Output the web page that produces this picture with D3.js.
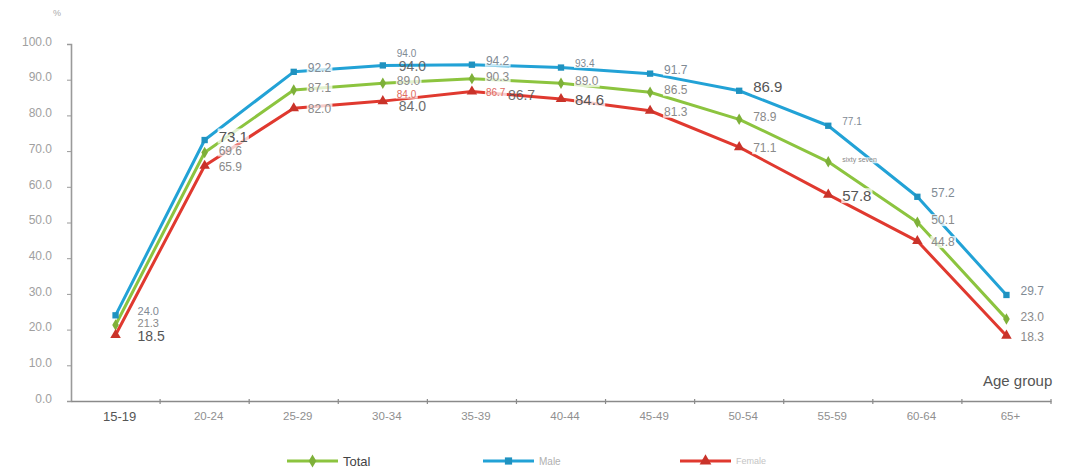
<!DOCTYPE html>
<html>
<head>
<meta charset="utf-8">
<script src="https://cdn.jsdelivr.net/npm/d3@7/dist/d3.min.js"></script>
<style>
  html, body { margin: 0; padding: 0; background: #fff; }
  svg { display: block; font-family: "Liberation Sans", Arial, sans-serif; }
</style>
</head>
<body>
<svg id="chart" width="1065" height="476"></svg>
<script>
// Labour force participation rate by age group (%)
const ageGroups = ["15-19", "20-24", "25-29", "30-34", "35-39", "40-44", "45-49", "50-54", "55-59", "60-64", "65+"];
const totalRate  = [21.3, 69.6, 87.1, 89.0, 90.3, 89.0, 86.5, 78.9, 67.0, 50.1, 23.0];
const maleRate   = [24.0, 73.1, 92.2, 94.0, 94.2, 93.4, 91.7, 86.9, 77.1, 57.2, 29.7];
const femaleRate = [18.5, 65.9, 82.0, 84.0, 86.7, 84.6, 81.3, 71.1, 57.8, 44.8, 18.3];
const yTicks = [0, 10, 20, 30, 40, 50, 60, 70, 80, 90, 100];
const seriesNames = ["Total", "Male", "Female"];
// printed label text where it differs from the plain number
const totalLabelText = { 8: "sixty seven" };

const svg = d3.select("#chart");

const x = d3.scaleBand().domain(ageGroups).range([71, 1051]).padding(0);
const y = d3.scaleLinear().domain([0, 100]).range([401, 44]);
const cx = d => x(d) + x.bandwidth() / 2;

// ---- y axis
const yAxis = svg.append("g")
  .attr("transform", "translate(71,0)")
  .call(d3.axisLeft(y).tickValues(yTicks).tickFormat(d3.format(".1f")).tickSize(4).tickPadding(15));
yAxis.select(".domain").attr("stroke", "#9a9a9a").attr("stroke-width", 1.6);
yAxis.selectAll(".tick line").attr("stroke", "#9a9a9a");
yAxis.selectAll(".tick text")
  .attr("fill", "#a0a0a0").attr("font-size", 12).attr("dy", "0.1em")
  .attr("font-family", "Liberation Sans, Arial, sans-serif");

svg.append("text").attr("x", 57).attr("y", 16).attr("text-anchor", "middle")
  .attr("fill", "#aaa").attr("font-size", 9).text("%");

// ---- x axis (labels centred in each band, ticks on band edges)
const xAxis = svg.append("g")
  .attr("transform", "translate(0,401)")
  .call(d3.axisBottom(x).tickSize(0).tickPadding(11));
xAxis.select(".domain").attr("stroke", "#8a8a8a").attr("stroke-width", 1.6);
xAxis.selectAll(".tick text")
  .attr("dx", 4)
  .attr("fill", (d, i) => i === 0 ? "#555" : "#8f8f8f")
  .attr("font-size", (d, i) => i === 0 ? 13 : 11.5)
  .attr("font-family", "Liberation Sans, Arial, sans-serif");
svg.append("g").selectAll("line")
  .data(ageGroups)
  .join("line")
  .attr("x1", d => x(d) + x.bandwidth()).attr("x2", d => x(d) + x.bandwidth())
  .attr("y1", 399).attr("y2", 404)
  .attr("stroke", "#8a8a8a").attr("stroke-width", 1.2);

svg.append("text").attr("x", 983).attr("y", 386)
  .attr("fill", "#555").attr("font-size", 15).text("Age group");

// ---- series
const series = [
  { name: seriesNames[0], values: totalRate,  color: "#8cc43f", marker: d3.symbolDiamond,  size: 38, labelColor: "#8a8a8a", dy: -2 },
  { name: seriesNames[1], values: maleRate,   color: "#22a2d6", marker: d3.symbolSquare,   size: 40, labelColor: "#7f8a94", dy: -4 },
  { name: seriesNames[2], values: femaleRate, color: "#e0392f", marker: d3.symbolTriangle, size: 48, labelColor: "#8a8a8a", dy: 1 }
];
// emphasised (larger, darker) labels and small ones, by series name
const bigLabels   = { Male: [1, 7], Female: [0, 5, 8], Total: [] };
const smallLabels = { Male: [3, 5, 8], Female: [3, 4], Total: [8] };
// small labels that sit a little higher, above a doubled print
const raisedLabels = { Male: [3], Female: [3], Total: [] };

const line = d3.line().x((d, i) => cx(ageGroups[i])).y(d => y(d));

const plot = svg.append("g");
series.forEach(s => {
  plot.append("path")
    .datum(s.values)
    .attr("d", line)
    .attr("fill", "none")
    .attr("stroke", s.color)
    .attr("stroke-width", 3)
    .attr("stroke-linejoin", "round");
});
series.forEach(s => {
  plot.append("g").selectAll("path")
    .data(s.values)
    .join("path")
    .attr("transform", (d, i) => `translate(${cx(ageGroups[i])},${y(d)})`)
    .attr("d", d3.symbol().type(s.marker).size(s.size))
    .attr("fill", d3.color(s.color).darker(0.3));
});

// ---- value labels
const labelLayer = svg.append("g");
series.forEach(s => {
  s.values.forEach((v, i) => {
    const big = bigLabels[s.name].includes(i);
    const small = smallLabels[s.name].includes(i);
    const raised = raisedLabels[s.name].includes(i);
    let text = v.toFixed(1);
    if (s.name === "Total" && totalLabelText[i]) text = totalLabelText[i];
    const fs = big ? (i === 0 ? 14 : 15) : small ? (text.length > 5 ? 7 : 10) : (i === 0 ? 11 : 12);
    const lx = cx(ageGroups[i]) + (i === 0 ? 22 : 14);
    const ly = y(v) + s.dy - (raised ? 8 : 0);
    const t = labelLayer.append("text")
      .attr("x", lx).attr("y", ly)
      .attr("dominant-baseline", "central")
      .attr("font-size", fs)
      .attr("fill", big ? "#555" : (s.name === "Female" && small ? "#e06a60" : s.labelColor))
      .text(text);
    const bb = t.node().getBBox();
    labelLayer.insert("rect", () => t.node())
      .attr("x", bb.x - 1).attr("y", bb.y + 1)
      .attr("width", bb.width + 2).attr("height", bb.height - 2)
      .attr("fill", "#fff").attr("opacity", 0.75);
  });
});
// doubled labels printed just under the small ones
[[ "Male", 3, 16, 1 ], [ "Female", 3, 16, 5 ], [ "Female", 4, 36, 4 ]].forEach(([name, i, dx, dy]) => {
  const s = series.find(d => d.name === name);
  labelLayer.append("text")
    .attr("x", cx(ageGroups[i]) + dx)
    .attr("y", y(s.values[i]) + dy)
    .attr("dominant-baseline", "central")
    .attr("font-size", 14)
    .attr("fill", "#555")
    .attr("opacity", 0.85)
    .text(s.values[i].toFixed(1));
});

// ---- legend
const legendItems = [
  { s: series[0], x0: 287, textColor: "#444", fs: 13 },
  { s: series[1], x0: 483, textColor: "#b0b0b0", fs: 10 },
  { s: series[2], x0: 680, textColor: "#c4c4c4", fs: 9 }
];
const legend = svg.append("g");
legendItems.forEach(it => {
  const g = legend.append("g").attr("transform", `translate(${it.x0},461)`);
  g.append("line").attr("x1", 0).attr("x2", 51).attr("y1", 0).attr("y2", 0)
    .attr("stroke", it.s.color).attr("stroke-width", 3);
  g.append("path").attr("transform", "translate(25.5,0)")
    .attr("d", d3.symbol().type(it.s.marker).size(it.s.size + 12))
    .attr("fill", d3.color(it.s.color).darker(0.3));
  g.append("text").attr("x", 56).attr("y", 0).attr("dominant-baseline", "central")
    .attr("fill", it.textColor).attr("font-size", it.fs).text(it.s.name);
});
</script>
</body>
</html>
